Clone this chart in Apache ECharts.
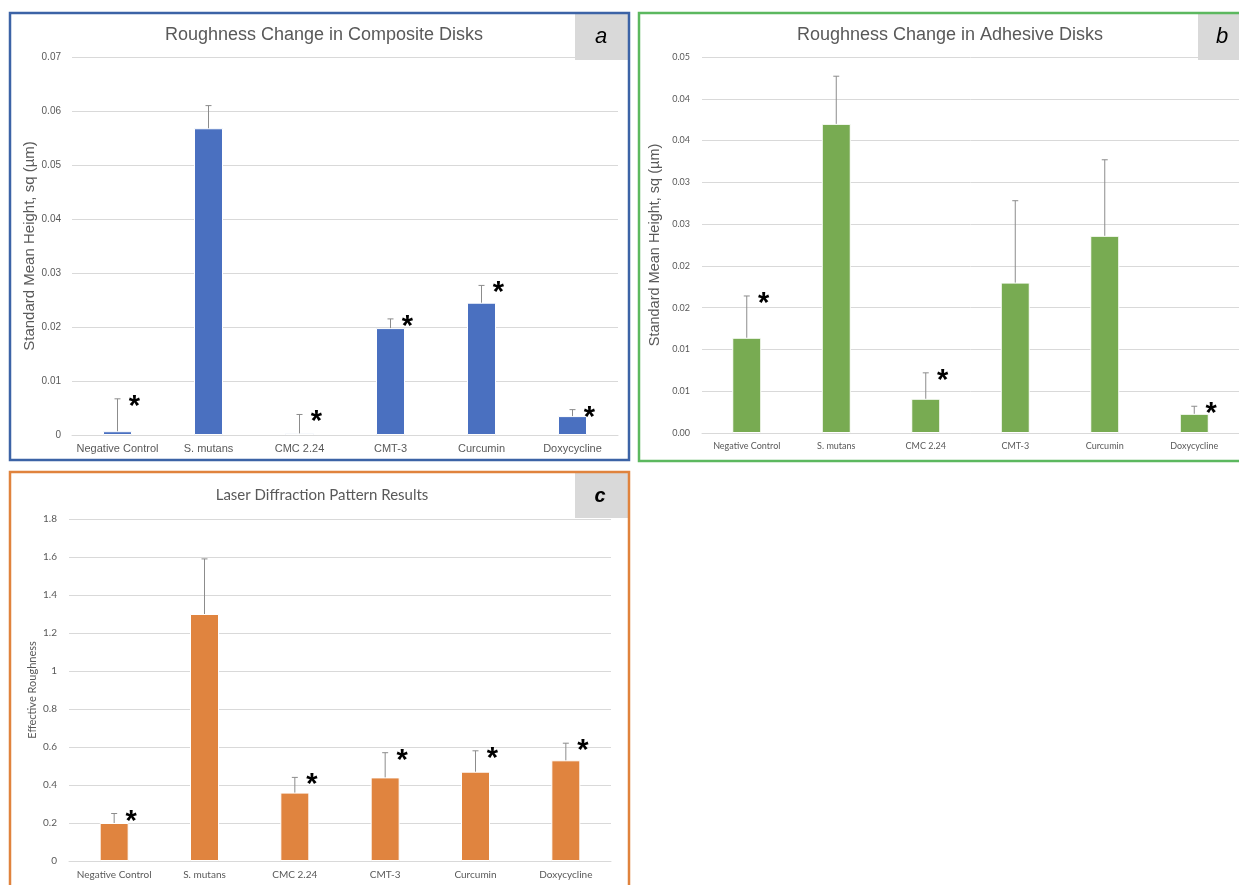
<!DOCTYPE html>
<html>
<head>
<meta charset="utf-8">
<script src="https://cdn.jsdelivr.net/npm/echarts@6/dist/echarts.min.js"></script>
<style>
  html, body { margin: 0; padding: 0; background: #fff; }
  #chart { width: 1239px; height: 885px; }
</style>
</head>
<body>
<div id="chart"></div>
<script>
// data
var categories = ['Negative Control', 'S. mutans', 'CMC 2.24', 'CMT-3', 'Curcumin', 'Doxycycline'];

var compositeMean = [0.0007, 0.0568, 0.0003, 0.0198, 0.0245, 0.0035];
var compositeUpper = [0.0067, 0.0610, 0.0038, 0.0215, 0.0277, 0.0047];
var compositeStar = [1, 0, 1, 1, 1, 1];

var adhesiveMean = [0.0114, 0.0370, 0.0041, 0.0180, 0.0236, 0.0023];
var adhesiveUpper = [0.0164, 0.0427, 0.0072, 0.0278, 0.0327, 0.0032];
var adhesiveStar = [1, 0, 1, 0, 0, 1];
// Excel rounded the 0.005 steps to two decimals
var adhesiveTicks = ['0.00', '0.01', '0.01', '0.02', '0.02', '0.03', '0.03', '0.04', '0.04', '0.05'];

var laserMean = [0.20, 1.30, 0.36, 0.44, 0.47, 0.53];
var laserUpper = [0.25, 1.59, 0.44, 0.57, 0.58, 0.62];
var laserStar = [1, 0, 1, 1, 1, 1];

var GRID = '#d9d9d9';
var TXT = '#595959';

// error bar (upper only) + significance asterisk
function errRender(params, api) {
  var i = api.value(0);
  var base = api.coord([i, api.value(1)]);
  var top = api.coord([i, api.value(2)]);
  var kids = [
    { type: 'line', shape: { x1: top[0], y1: base[1], x2: top[0], y2: top[1] }, style: { stroke: '#8c8c8c', lineWidth: 1 } },
    { type: 'line', shape: { x1: top[0] - 3, y1: top[1], x2: top[0] + 3, y2: top[1] }, style: { stroke: '#8c8c8c', lineWidth: 1 } }
  ];
  if (api.value(3)) {
    kids.push({
      type: 'text', x: top[0] + 17, y: top[1] + 8,
      style: { text: '*', font: 'bold 29px "Liberation Sans"', fill: '#000', align: 'center', verticalAlign: 'middle' }
    });
  }
  return { type: 'group', children: kids };
}

function errData(mean, upper, star) {
  return categories.map(function (c, i) { return [i, mean[i], upper[i], star[i]]; });
}

function xAxisFor(idx, font, size, margin) {
  return {
    type: 'category', gridIndex: idx, data: categories,
    axisLine: { lineStyle: { color: GRID } },
    axisTick: { show: false },
    axisLabel: { color: TXT, fontFamily: font, fontSize: size, margin: margin, interval: 0 }
  };
}

var chart = echarts.init(document.getElementById('chart'));
chart.setOption({
  backgroundColor: '#fff',
  animation: false,
  title: [
    { text: 'Roughness Change in Composite Disks', left: 319, top: 21, textAlign: 'center',
      textStyle: { color: TXT, fontFamily: 'Liberation Sans', fontSize: 18, fontWeight: 'normal' } },
    { text: 'Roughness Change in Adhesive Disks', left: 945, top: 21, textAlign: 'center',
      textStyle: { color: TXT, fontFamily: 'Liberation Sans', fontSize: 18, fontWeight: 'normal' } },
    { text: 'Laser Diffraction Pattern Results', left: 317, top: 483, textAlign: 'center',
      textStyle: { color: TXT, fontFamily: 'Lato', fontSize: 15, fontWeight: 'normal' } }
  ],
  grid: [
    { left: 72, top: 57, width: 546, height: 378 },
    { left: 702, top: 57, width: 537, height: 376 },
    { left: 69, top: 519, width: 542, height: 342 }
  ],
  xAxis: [
    xAxisFor(0, 'Liberation Sans', 11, 8),
    xAxisFor(1, 'Lato', 9, 9),
    xAxisFor(2, 'Lato', 10, 9)
  ],
  yAxis: [
    { type: 'value', gridIndex: 0, min: 0, max: 0.07, interval: 0.01,
      name: 'Standard Mean Height, sq (\u00b5m)', nameLocation: 'middle', nameGap: 29,
      nameTextStyle: { color: TXT, fontFamily: 'Liberation Sans', fontSize: 15 },
      axisLabel: { color: TXT, fontFamily: 'Liberation Sans', fontSize: 10, margin: 11 },
      splitLine: { lineStyle: { color: GRID } } },
    { type: 'value', gridIndex: 1, min: 0, max: 0.045, interval: 0.005,
      name: 'Standard Mean Height, sq (\u00b5m)', nameLocation: 'middle', nameGap: 40,
      nameTextStyle: { color: TXT, fontFamily: 'Liberation Sans', fontSize: 14.5 },
      axisLabel: { color: TXT, fontFamily: 'Lato', fontSize: 9, margin: 12,
        formatter: function (v, i) { return adhesiveTicks[i]; } },
      splitLine: { lineStyle: { color: GRID } } },
    { type: 'value', gridIndex: 2, min: 0, max: 1.8, interval: 0.2,
      name: 'Effective Roughness', nameLocation: 'middle', nameGap: 31,
      nameTextStyle: { color: TXT, fontFamily: 'Lato', fontSize: 11 },
      axisLabel: { color: TXT, fontFamily: 'Lato', fontSize: 10, margin: 12 },
      splitLine: { lineStyle: { color: GRID } } }
  ],
  series: [
    { type: 'bar', xAxisIndex: 0, yAxisIndex: 0, data: compositeMean, barWidth: 29,
      itemStyle: { color: '#4a70c0', borderColor: '#fff', borderWidth: 1 } },
    { type: 'bar', xAxisIndex: 1, yAxisIndex: 1, data: adhesiveMean, barWidth: 29,
      itemStyle: { color: '#78ab52', borderColor: '#fff', borderWidth: 1 } },
    { type: 'bar', xAxisIndex: 2, yAxisIndex: 2, data: laserMean, barWidth: 29,
      itemStyle: { color: '#e0843f', borderColor: '#fff', borderWidth: 1 } },
    { type: 'custom', xAxisIndex: 0, yAxisIndex: 0, renderItem: errRender, z: 5,
      data: errData(compositeMean, compositeUpper, compositeStar), encode: { x: 0, y: [1, 2] } },
    { type: 'custom', xAxisIndex: 1, yAxisIndex: 1, renderItem: errRender, z: 5,
      data: errData(adhesiveMean, adhesiveUpper, adhesiveStar), encode: { x: 0, y: [1, 2] } },
    { type: 'custom', xAxisIndex: 2, yAxisIndex: 2, renderItem: errRender, z: 5,
      data: errData(laserMean, laserUpper, laserStar), encode: { x: 0, y: [1, 2] } }
  ],
  graphic: [
    // panel frames
    { type: 'rect', shape: { x: 10, y: 13, width: 619, height: 447 }, style: { fill: 'none', stroke: '#3c63a6', lineWidth: 2.5 }, z: 10 },
    { type: 'rect', shape: { x: 639, y: 13, width: 620, height: 448 }, style: { fill: 'none', stroke: '#5cb85f', lineWidth: 2.5 }, z: 10 },
    { type: 'rect', shape: { x: 10, y: 472, width: 619, height: 440 }, style: { fill: 'none', stroke: '#e0833d', lineWidth: 2.5 }, z: 10 },
    // panel letters
    { type: 'rect', shape: { x: 575, y: 14, width: 53, height: 46 }, style: { fill: '#d9d9d9' }, z: 9 },
    { type: 'text', x: 601, y: 37, style: { text: 'a', font: 'italic 22px "Liberation Sans"', fill: '#000', align: 'center', verticalAlign: 'middle' }, z: 11 },
    { type: 'rect', shape: { x: 1198, y: 14, width: 41, height: 46 }, style: { fill: '#d9d9d9' }, z: 9 },
    { type: 'text', x: 1222, y: 37, style: { text: 'b', font: 'italic 22px "Liberation Sans"', fill: '#000', align: 'center', verticalAlign: 'middle' }, z: 11 },
    { type: 'rect', shape: { x: 575, y: 473, width: 53, height: 45 }, style: { fill: '#d9d9d9' }, z: 9 },
    { type: 'text', x: 600, y: 496, style: { text: 'c', font: 'bold italic 20px "Liberation Sans"', fill: '#000', align: 'center', verticalAlign: 'middle' }, z: 11 }
  ]
});
</script>
</body>
</html>
